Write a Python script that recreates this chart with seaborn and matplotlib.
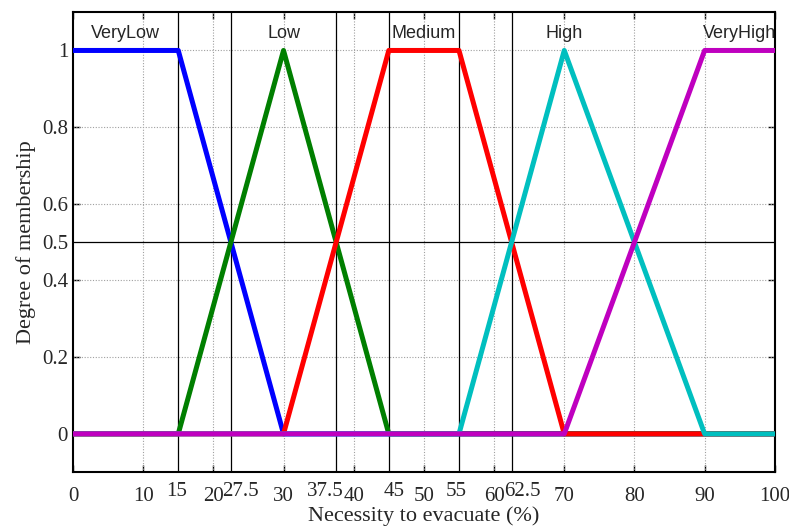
import pandas as pd
import seaborn as sns
import matplotlib.pyplot as plt

# membership function breakpoints (Necessity to evacuate, %)
verylow_x = [0, 15, 30, 100]
verylow_y = [1, 1, 0, 0]
low_x = [0, 15, 30, 45, 100]
low_y = [0, 0, 1, 0, 0]
medium_x = [0, 30, 45, 55, 70, 100]
medium_y = [0, 0, 1, 1, 0, 0]
high_x = [0, 55, 70, 90, 100]
high_y = [0, 0, 1, 0, 0]
veryhigh_x = [0, 70, 90, 100]
veryhigh_y = [0, 0, 1, 1]

mf_names = ["VeryLow", "Low", "Medium", "High", "VeryHigh"]
mf_label_x = [7.5, 30, 50, 70, 95]
mf_colors = ["#0000ff", "#007f00", "#ff0000", "#00bfbf", "#bf00bf"]

xticks = [0, 10, 20, 30, 40, 50, 60, 70, 80, 90, 100]
yticks = [0, 0.2, 0.4, 0.5, 0.6, 0.8, 1]
ytick_labels = ["0", "0.2", "0.4", "0.5", "0.6", "0.8", "1"]
grid_x = [10, 20, 30, 40, 50, 60, 70, 80, 90]
grid_y = [0.2, 0.4, 0.6, 0.8, 1]
# cut points marked with solid lines and hand-placed labels
solid_x = [15, 22.5, 37.5, 45, 55, 62.5]
solid_y = [0.5]
cut_labels = ["15", "27.5", "37.5", "45", "55", "62.5"]
cut_label_x = [14.7, 23.9, 36.0, 45.7, 54.6, 64.0]

sns.set_style("ticks")
plt.rcParams['font.family'] = ['Liberation Serif', 'DejaVu Serif']

fig = plt.figure(figsize=(7.89, 5.27), dpi=100)
ax = fig.add_axes([0.0925, 0.104, 0.8895, 0.873])

for gx in grid_x:
    ax.axvline(gx, color="#a0a0a0", lw=0.8, ls=(0, (1, 1.5)), zorder=1)
for gy in grid_y:
    ax.axhline(gy, color="#a0a0a0", lw=0.8, ls=(0, (1, 1.5)), zorder=1)
for sx in solid_x:
    ax.axvline(sx, color="black", lw=0.9, zorder=1)
for sy in solid_y:
    ax.axhline(sy, color="black", lw=0.9, zorder=1)

series = [(verylow_x, verylow_y), (low_x, low_y), (medium_x, medium_y),
          (high_x, high_y), (veryhigh_x, veryhigh_y)]
for (xs, ys), name, c in zip(series, mf_names, mf_colors):
    df = pd.DataFrame({"x": xs, "y": ys})
    sns.lineplot(data=df, x="x", y="y", ax=ax, color=c, linewidth=3.6,
                 estimator=None, sort=False, zorder=3)

for name, lx in zip(mf_names, mf_label_x):
    ax.text(lx, 1.045, name, ha="center", va="center", fontsize=13,
            family="Liberation Sans", zorder=4)

ax.set_xlim(0, 100)
ax.set_ylim(-0.1, 1.1)
ax.set_xticks(xticks)
ax.set_yticks(yticks)
ax.set_yticklabels(ytick_labels)
ax.tick_params(axis="both", direction="in", length=5, width=1, labelsize=15,
               top=True, right=True, color="black")
ax.tick_params(axis="x", pad=11)
for t, v in zip(ax.yaxis.get_major_ticks(), yticks):
    if v in solid_y:
        t.tick1line.set_visible(False)
        t.tick2line.set_visible(False)

for lab, lx in zip(cut_labels, cut_label_x):
    ax.annotate(lab, xy=(lx, 0), xycoords=("data", "axes fraction"),
                xytext=(0, -14), textcoords="offset points",
                ha="center", va="center", fontsize=15)

for s in ax.spines.values():
    s.set_visible(True)
    s.set_color("black")
    s.set_linewidth(1.5)

ax.set_xlabel("Necessity to evacuate (%)", fontsize=16, labelpad=0)
ax.set_ylabel("Degree of membership", fontsize=16, labelpad=4)

fig.savefig("out.png", dpi=100)
